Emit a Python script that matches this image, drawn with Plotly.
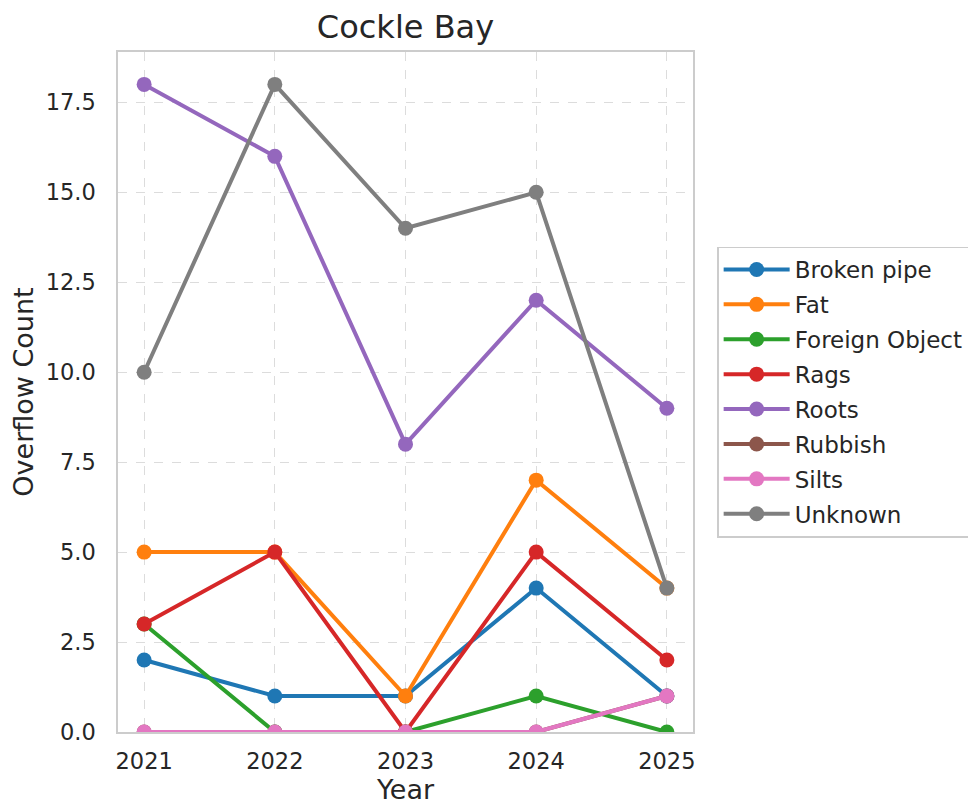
import plotly.graph_objects as go

years = [2021, 2022, 2023, 2024, 2025]
causes = ["Broken pipe", "Fat", "Foreign Object", "Rags", "Roots", "Rubbish", "Silts", "Unknown"]
broken_pipe = [2, 1, 1, 4, 1]
fat = [5, 5, 1, 7, 4]
foreign_object = [3, 0, 0, 1, 0]
rags = [3, 5, 0, 5, 2]
roots = [18, 16, 8, 12, 9]
rubbish = [0, 0, 0, 0, 1]
silts = [0, 0, 0, 0, 1]
unknown = [10, 18, 14, 15, 4]

series = [broken_pipe, fat, foreign_object, rags, roots, rubbish, silts, unknown]
colors = ["#1f77b4", "#ff7f0e", "#2ca02c", "#d62728", "#9467bd", "#8c564b", "#e377c2", "#7f7f7f"]

fig = go.Figure()
for name, vals, col in zip(causes, series, colors):
    fig.add_trace(go.Scatter(
        x=years, y=vals, name=name, mode="lines+markers", legendgroup=name,
        line=dict(color=col, width=4),
        marker=dict(color=col, size=15),
    ))

# seaborn-ish whitegrid look
grid = dict(showgrid=True, gridcolor="#dcdcdc", griddash="dash", gridwidth=1.2,
            showline=True, linecolor="#cccccc", linewidth=1.5, mirror=True,
            zeroline=False, ticks="", tickfont=dict(size=22.5, color="#262626"))

# page body has an 8px margin, so the figure is shrunk by that amount
fig.update_layout(
    width=968, height=803,
    margin=dict(l=110, r=283, t=44, b=79, autoexpand=False),
    plot_bgcolor="white", paper_bgcolor="white",
    font=dict(family="DejaVu Sans", color="#262626"),
    title=dict(text="Cockle Bay", x=0.5, xref="paper", xanchor="center",
               y=1 - 19 / 803, yref="container", yanchor="middle",
               font=dict(size=32, color="#262626")),
    xaxis=dict(range=[2020.8, 2025.2], tickvals=years, ticklabelstandoff=8,
               title=dict(text="Year", font=dict(size=27), standoff=6), **grid),
    yaxis=dict(range=[0, 18.9], tickvals=[0, 2.5, 5, 7.5, 10, 12.5, 15, 17.5],
               ticktext=["0.0", "2.5", "5.0", "7.5", "10.0", "12.5", "15.0", "17.5"],
               ticklabelstandoff=16,
               title=dict(text="Overflow Count", font=dict(size=27), standoff=4), **grid),
    legend=dict(x=1.042, xref="paper", y=0.5, yanchor="middle",
                bordercolor="#cccccc", borderwidth=1.5, bgcolor="white",
                font=dict(size=23, color="#262626"), itemwidth=66, tracegroupgap=2),
)

fig.write_html("out.html")
